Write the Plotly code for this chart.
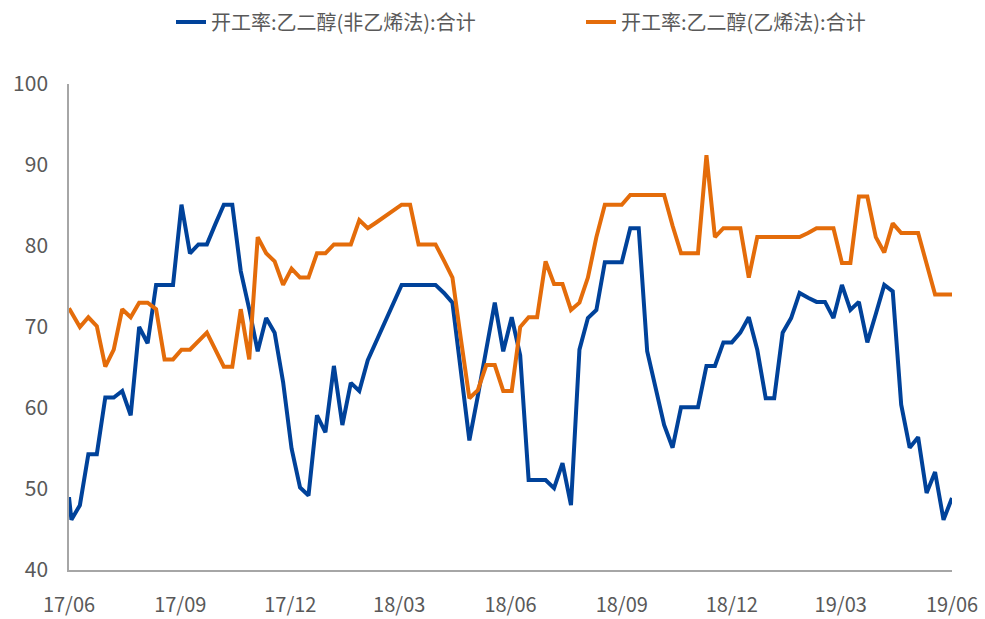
import datetime as dt

import plotly.graph_objects as go

# 周度数据：首个点为 2017-06-01，其后每周一个点
first_date = "2017-06-01"
week_start = dt.date(2017, 6, 3)

non_olefin = [
    49.0,
    46.2, 48.0, 54.3, 54.3, 61.3, 61.3, 62.1, 59.1, 70.0, 68.0,
    75.2, 75.2, 75.2, 85.1, 79.1, 80.2, 80.2, 82.7, 85.1, 85.1,
    76.9, 72.2, 67.0, 71.1, 69.3, 63.2, 55.0, 50.2, 49.2, 59.1,
    57.0, 65.2, 57.9, 63.1, 62.1, 65.9, 68.3, 70.6, 72.9, 75.2,
    75.2, 75.2, 75.2, 75.2, 74.2, 73.0, 64.5, 56.0, 61.5, 67.5,
    73.0, 67.0, 71.2, 66.5, 51.1, 51.1, 51.1, 50.1, 53.2, 48.0,
    67.2, 71.1, 72.1, 78.0, 78.0, 78.0, 82.2, 82.2, 67.0, 62.5,
    57.9, 55.1, 60.1, 60.1, 60.1, 65.2, 65.2, 68.1, 68.1, 69.3,
    71.2, 67.2, 61.2, 61.2, 69.3, 71.1, 74.2, 73.6, 73.1, 73.1,
    71.1, 75.2, 72.1, 73.1, 68.1, 71.6, 75.2, 74.4, 60.4, 55.1,
    56.4, 49.5, 52.1, 46.2, 48.9,
]

olefin = [
    72.3,
    71.8, 70.0, 71.2, 70.1, 65.1, 67.2, 72.2, 71.2, 73.0, 73.0,
    72.2, 66.0, 66.0, 67.2, 67.2, 68.2, 69.3, 67.2, 65.1, 65.1,
    72.2, 66.0, 81.1, 79.1, 78.1, 75.2, 77.2, 76.1, 76.1, 79.1,
    79.1, 80.2, 80.2, 80.2, 83.2, 82.2, 82.9, 83.6, 84.4, 85.1,
    85.1, 80.2, 80.2, 80.2, 78.2, 76.1, 68.5, 61.2, 62.2, 65.3,
    65.3, 62.1, 62.1, 70.0, 71.2, 71.2, 78.1, 75.3, 75.3, 72.1,
    73.0, 76.1, 81.1, 85.1, 85.1, 85.1, 86.3, 86.3, 86.3, 86.3,
    86.3, 82.5, 79.1, 79.1, 79.1, 91.2, 81.1, 82.2, 82.2, 82.2,
    76.1, 81.1, 81.1, 81.1, 81.1, 81.1, 81.1, 81.6, 82.2, 82.2,
    82.2, 77.9, 77.9, 86.1, 86.1, 81.1, 79.2, 82.8, 81.6, 81.6,
    81.6, 77.8, 74.0, 74.0, 74.0,
]

dates = [first_date] + [
    (week_start + dt.timedelta(days=7 * i)).isoformat()
    for i in range(len(non_olefin) - 1)
]

BLUE = "#00429A"
ORANGE = "#E46C0A"
TEXT = "#595959"
FONT = "Noto Sans CJK SC, sans-serif"

W, H = 985, 619
PLOT_L, PLOT_W = 69, 883


def legend_box(left_px):
    return dict(
        orientation="h",
        x=(left_px - PLOT_L) / PLOT_W,
        xanchor="left",
        y=1 - 22 / H,
        yanchor="middle",
        yref="container",
        font=dict(family=FONT, size=20, color=TEXT),
        bgcolor="rgba(0,0,0,0)",
    )


fig = go.Figure()

fig.add_trace(
    go.Scatter(
        x=dates,
        y=non_olefin,
        mode="lines",
        name="开工率:乙二醇(非乙烯法):合计",
        line=dict(color=BLUE, width=4),
        cliponaxis=False,
        legend="legend",
    )
)

fig.add_trace(
    go.Scatter(
        x=dates,
        y=olefin,
        mode="lines",
        name="开工率:乙二醇(乙烯法):合计",
        line=dict(color=ORANGE, width=4),
        cliponaxis=False,
        legend="legend2",
    )
)

fig.update_layout(
    width=W,
    height=H,
    margin=dict(l=PLOT_L, r=W - PLOT_L - PLOT_W, t=84, b=49),
    plot_bgcolor="white",
    paper_bgcolor="white",
    font=dict(family=FONT, size=20, color=TEXT),
    showlegend=True,
    legend=legend_box(171),
    legend2=legend_box(581),
    xaxis=dict(
        type="date",
        range=["2017-06-01", "2019-06-01"],
        tick0="2017-06-01",
        dtick="M3",
        tickformat="%y/%m",
        showgrid=False,
        zeroline=False,
        showline=True,
        linecolor="#A6A6A6",
        linewidth=1.5,
        ticks="",
        ticklabelstandoff=16,
        ticklabeloverflow="allow",
        automargin=False,
        tickfont=dict(size=20, color=TEXT),
    ),
    yaxis=dict(
        range=[40, 100],
        dtick=10,
        showgrid=False,
        zeroline=False,
        showline=True,
        linecolor="#A6A6A6",
        linewidth=1.5,
        ticks="",
        ticklabelstandoff=15,
        automargin=False,
        tickfont=dict(size=21, color=TEXT),
    ),
)

# drop the browser's default 8px body margin so the figure sits at (0, 0)
fig.write_html(
    "out.html",
    config={"displayModeBar": False},
    post_script="document.body.style.margin = '0px';",
)
